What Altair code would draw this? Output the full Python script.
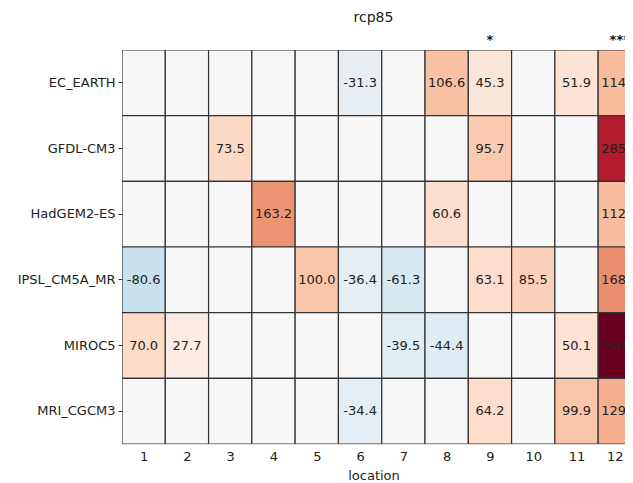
import altair as alt
import pandas as pd

models = ["EC_EARTH", "GFDL-CM3", "HadGEM2-ES", "IPSL_CM5A_MR", "MIROC5", "MRI_CGCM3"]
locations = [1, 2, 3, 4, 5, 6, 7, 8, 9, 10, 11, 12]

# None = empty cell (no significant change)
ec_earth = [None, None, None, None, None, -31.3, None, 106.6, 45.3, None, 51.9, 114.5]
gfdl_cm3 = [None, None, 73.5, None, None, None, None, None, 95.7, None, None, 285.7]
hadgem2 = [None, None, None, 163.2, None, None, None, 60.6, None, None, None, 112.8]
ipsl = [-80.6, None, None, None, 100.0, -36.4, -61.3, None, 63.1, 85.5, None, 168.1]
miroc5 = [70.0, 27.7, None, None, None, None, -39.5, -44.4, None, None, 50.1, 358.6]
mri = [None, None, None, None, None, -34.4, None, None, 64.2, None, 99.9, 129.9]
rows = [ec_earth, gfdl_cm3, hadgem2, ipsl, miroc5, mri]

star_locations = [9, 12]
star_labels = ["*", "***"]

records = []
for m, vals in zip(models, rows):
    for loc, v in zip(locations, vals):
        records.append({
            "model": m,
            "location": loc,
            "value": v if v is not None else 0.0,
            "label": f"{v:.1f}" if v is not None else "",
        })
df = pd.DataFrame(records)
stars = pd.DataFrame({"location": star_locations, "stars": star_labels})

vmax = 358.6
FONT = "DejaVu Sans"
rdbu_r = ["#053061", "#2166ac", "#4393c3", "#92c5de", "#d1e5f0", "#f7f7f7",
          "#fddbc7", "#f4a582", "#d6604d", "#b2182b", "#67001f"]
color_domain = [-vmax + i * (2 * vmax / 10) for i in range(11)]

xscale = alt.Scale(domain=[0.5, 12.12], nice=False, zero=False)
yenc = alt.Y("model:N", sort=models, title=None,
             axis=alt.Axis(ticks=True, tickSize=4, tickColor="#333", domain=False,
                           labelFontSize=13, labelPadding=3, labelColor="#222"))

base = alt.Chart(df).transform_calculate(
    x0="datum.location - 0.5", x1="datum.location + 0.5"
)

cells = base.mark_rect(stroke="#333", strokeWidth=1.2, clip=True).encode(
    x=alt.X("x0:Q", scale=xscale, title="location",
            axis=alt.Axis(values=locations, format="d", labelAngle=0, ticks=False,
                          domain=False, grid=False, labelFontSize=13, titleFontSize=13,
                          titleFontWeight="normal", labelPadding=6, titlePadding=6,
                          labelColor="#222", titleColor="#222", labelFlush=False,
                          labelOverlap=False,
                          labelOffset={"condition": {"test": "datum.value == 12", "value": -5},
                                       "value": 0})),
    x2="x1:Q",
    y=yenc,
    color=alt.Color("value:Q", legend=None,
                    scale=alt.Scale(domain=color_domain, range=rdbu_r)),
)
texts = base.mark_text(fontSize=13, font=FONT, color="#222", clip=True).encode(
    x=alt.X("location:Q", scale=xscale),
    y=alt.Y("model:N", sort=models),
    text="label:N",
)
star_text = alt.Chart(stars).mark_text(fontSize=13, font=FONT, color="#111",
                                       fontWeight="bold").encode(
    x=alt.X("location:Q", scale=xscale),
    y=alt.value(-10),
    text="stars:N",
)

chart = alt.layer(cells, texts, star_text).properties(
    width=503, height=394,
    title=alt.TitleParams("rcp85", fontSize=14, fontWeight="normal", font=FONT,
                          color="#222", offset=9, anchor="middle"),
    autosize=alt.AutoSizeParams(type="none"),
    padding={"left": 114, "top": 42, "right": 0, "bottom": 40},
).configure_view(stroke="#999", strokeWidth=1.5).configure(font=FONT)

chart.save("out.html", embed_options={"renderer": "svg", "actions": False})
